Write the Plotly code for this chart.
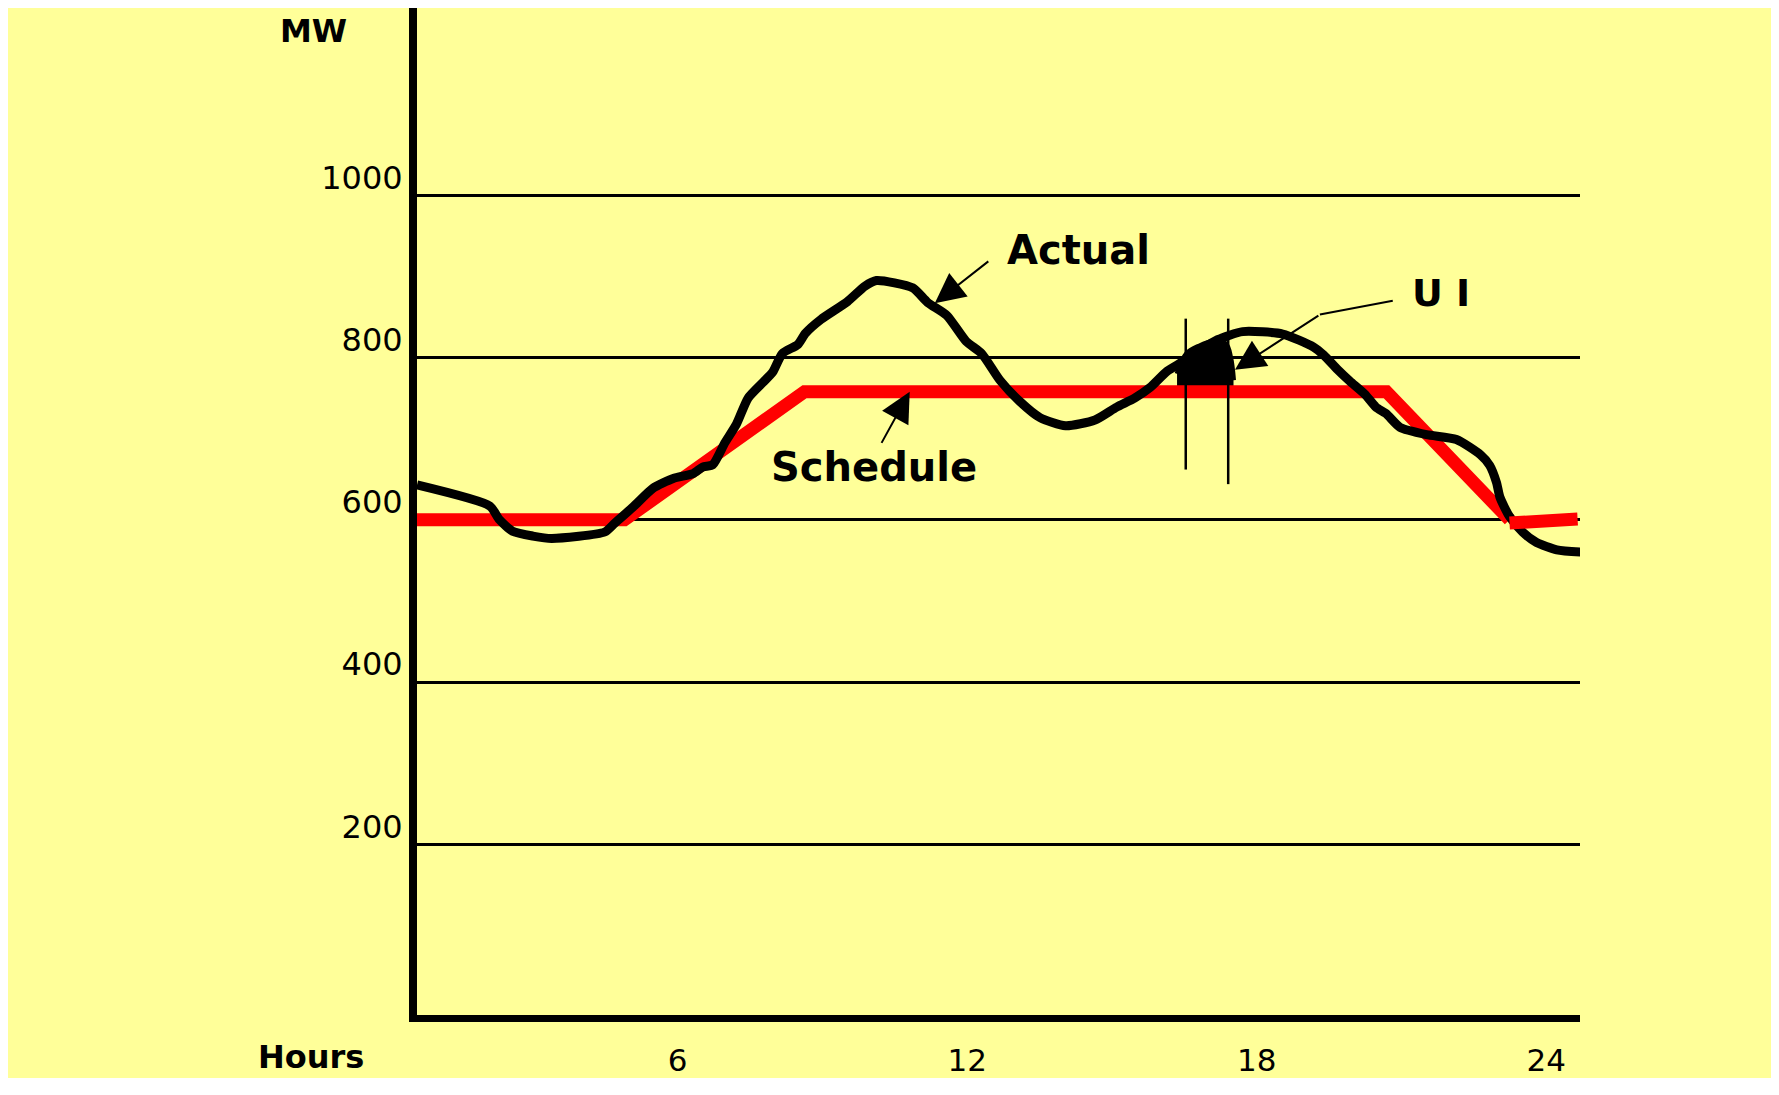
import plotly.graph_objects as go

# ---------------- data ----------------
hours_actual = [0.60, 2.11, 2.31, 2.58, 3.00, 3.39, 4.49, 4.70, 5.08, 5.49,
                5.91, 6.32, 6.52, 6.73, 6.98, 7.22, 7.46, 7.78, 7.97, 8.17,
                8.49, 8.65, 8.97, 9.52, 9.88, 10.12, 10.87, 11.18, 11.58, 11.98,
                12.30, 12.68, 13.09, 13.51, 14.04, 14.65, 15.10, 15.47, 15.79, 16.14,
                16.47, 16.82, 17.19, 17.71, 18.54, 19.18, 19.39, 19.68, 19.93, 20.24,
                20.47, 20.68, 20.97, 21.52, 22.14, 22.64, 22.83, 22.97, 23.04, 23.24,
                23.51, 23.80, 24.22, 24.76]
mw_actual = [643, 617, 600, 586, 580, 577, 585, 596, 616, 639,
             651, 657, 665, 668, 695, 718, 750, 770, 782, 805,
             816, 830, 847, 869, 888, 895, 886, 868, 852, 820,
             805, 772, 746, 726, 716, 723, 739, 750, 763, 783,
             795, 809, 822, 832, 829, 813, 803, 785, 771, 755,
             739, 731, 714, 705, 699, 680, 667, 646, 628, 604,
             585, 572, 563, 560]

sched_hours = [0.60, 4.90, 8.63, 20.69, 23.24]
sched_mw = [600, 600, 758, 758, 600]
sched_tail_hours = [23.24, 24.65]
sched_tail_mw = [596, 601]

# unscheduled-interchange blob (actual above schedule inside one time block)
ui_hours = [16.35, 16.55, 16.80, 17.10, 17.36, 17.46, 17.52]
ui_actual = [780, 805, 814, 820, 817, 800, 772]

block_hours = [16.53, 17.41]
block_low = [662, 644]
block_high = [848, 848]

y_ticks = [200, 400, 600, 800, 1000]
y_tick_labels = ["200", "400", "600", "800", "1000"]
x_ticks = [6, 12, 18, 24]
x_tick_labels = ["6", "12", "18", "24"]

YELLOW = "#FFFF99"
FONT = "DejaVu Sans"

assert len(hours_actual) == len(mw_actual)

fig = go.Figure()

# UI area: between schedule level and actual
ui_base = [sched_mw[2]] * len(ui_hours)
fig.add_trace(go.Scatter(x=ui_hours, y=ui_base, mode="lines",
                         line=dict(width=0, color="black"),
                         hoverinfo="skip", showlegend=False))
fig.add_trace(go.Scatter(x=ui_hours, y=ui_actual, mode="lines",
                         fill="tonexty", fillcolor="black",
                         line=dict(width=5, color="black", shape="spline"),
                         hoverinfo="skip", showlegend=False))

# schedule
fig.add_trace(go.Scatter(x=sched_hours, y=sched_mw, mode="lines",
                         line=dict(width=13, color="#FF0000"),
                         showlegend=False))
# actual
fig.add_trace(go.Scatter(x=hours_actual, y=mw_actual, mode="lines",
                         line=dict(width=9, color="black", shape="spline",
                                   smoothing=0.6),
                         showlegend=False))
# last schedule piece (drawn on top)
fig.add_trace(go.Scatter(x=sched_tail_hours, y=sched_tail_mw, mode="lines",
                         line=dict(width=13, color="#FF0000"),
                         showlegend=False))

# time-block boundaries
for bx, lo, hi in zip(block_hours, block_low, block_high):
    fig.add_shape(type="line", xref="x", yref="y", x0=bx, x1=bx, y0=lo, y1=hi,
                  line=dict(color="black", width=2.5))

# "U I" leader segment
fig.add_shape(type="line", xref="x", yref="y", x0=19.31, y0=853, x1=20.82, y1=870,
              line=dict(color="black", width=2))

arrow_style = dict(showarrow=True, arrowhead=2, arrowsize=3, arrowwidth=2,
                   arrowcolor="black", axref="x", ayref="y", xref="x", yref="y",
                   text="", standoff=0)
fig.add_annotation(x=11.33, y=867, ax=12.47, ay=920, **arrow_style)
fig.add_annotation(x=10.81, y=758, ax=10.21, ay=693, **arrow_style)
fig.add_annotation(x=17.55, y=785, ax=19.31, ay=853, **arrow_style)

label_font = dict(family=FONT, size=40, color="black", weight="bold")
fig.add_annotation(x=14.31, y=933, xref="x", yref="y", text="Actual",
                   showarrow=False, font=label_font)
fig.add_annotation(x=10.08, y=665, xref="x", yref="y", text="Schedule",
                   showarrow=False, font=label_font)
fig.add_annotation(x=21.81, y=879, xref="x", yref="y", text="U I",
                   showarrow=False, font=dict(family=FONT, size=38, color="black", weight="bold"))

fig.add_annotation(x=-0.0886, y=0.977, xref="paper", yref="paper", text="MW",
                   showarrow=False, xanchor="center", yanchor="middle",
                   font=dict(family=FONT, size=32, color="black", weight="bold"))
fig.add_annotation(x=-0.0911, y=-0.0417, xref="paper", yref="paper", text="Hours",
                   showarrow=False, xanchor="center", yanchor="middle",
                   font=dict(family=FONT, size=32, color="black", weight="bold"))

fig.update_layout(
    width=1763, height=1070,
    margin=dict(l=409, r=191, t=0, b=63, pad=0, autoexpand=False),
    paper_bgcolor=YELLOW, plot_bgcolor=YELLOW,
    showlegend=False,
    font=dict(family=FONT, color="black"),
)
fig.update_xaxes(range=[0.60, 24.70], tickmode="array", tickvals=x_ticks,
                 ticktext=x_tick_labels, showgrid=False, zeroline=False,
                 showline=True, linewidth=7, linecolor="black", ticks="",
                 tickfont=dict(family=FONT, size=31, color="black"),
                 ticklabelstandoff=12, automargin=False)
fig.update_yaxes(range=[-10.35, 1230.9], tickmode="array", tickvals=y_ticks,
                 ticktext=y_tick_labels, showgrid=True, gridcolor="black",
                 gridwidth=3, zeroline=False, showline=True, linewidth=8,
                 linecolor="black", ticks="",
                 tickfont=dict(family=FONT, size=32, color="black"),
                 ticklabelshift=-18, ticklabelstandoff=0, automargin=False)

fig.write_html("out.html")
